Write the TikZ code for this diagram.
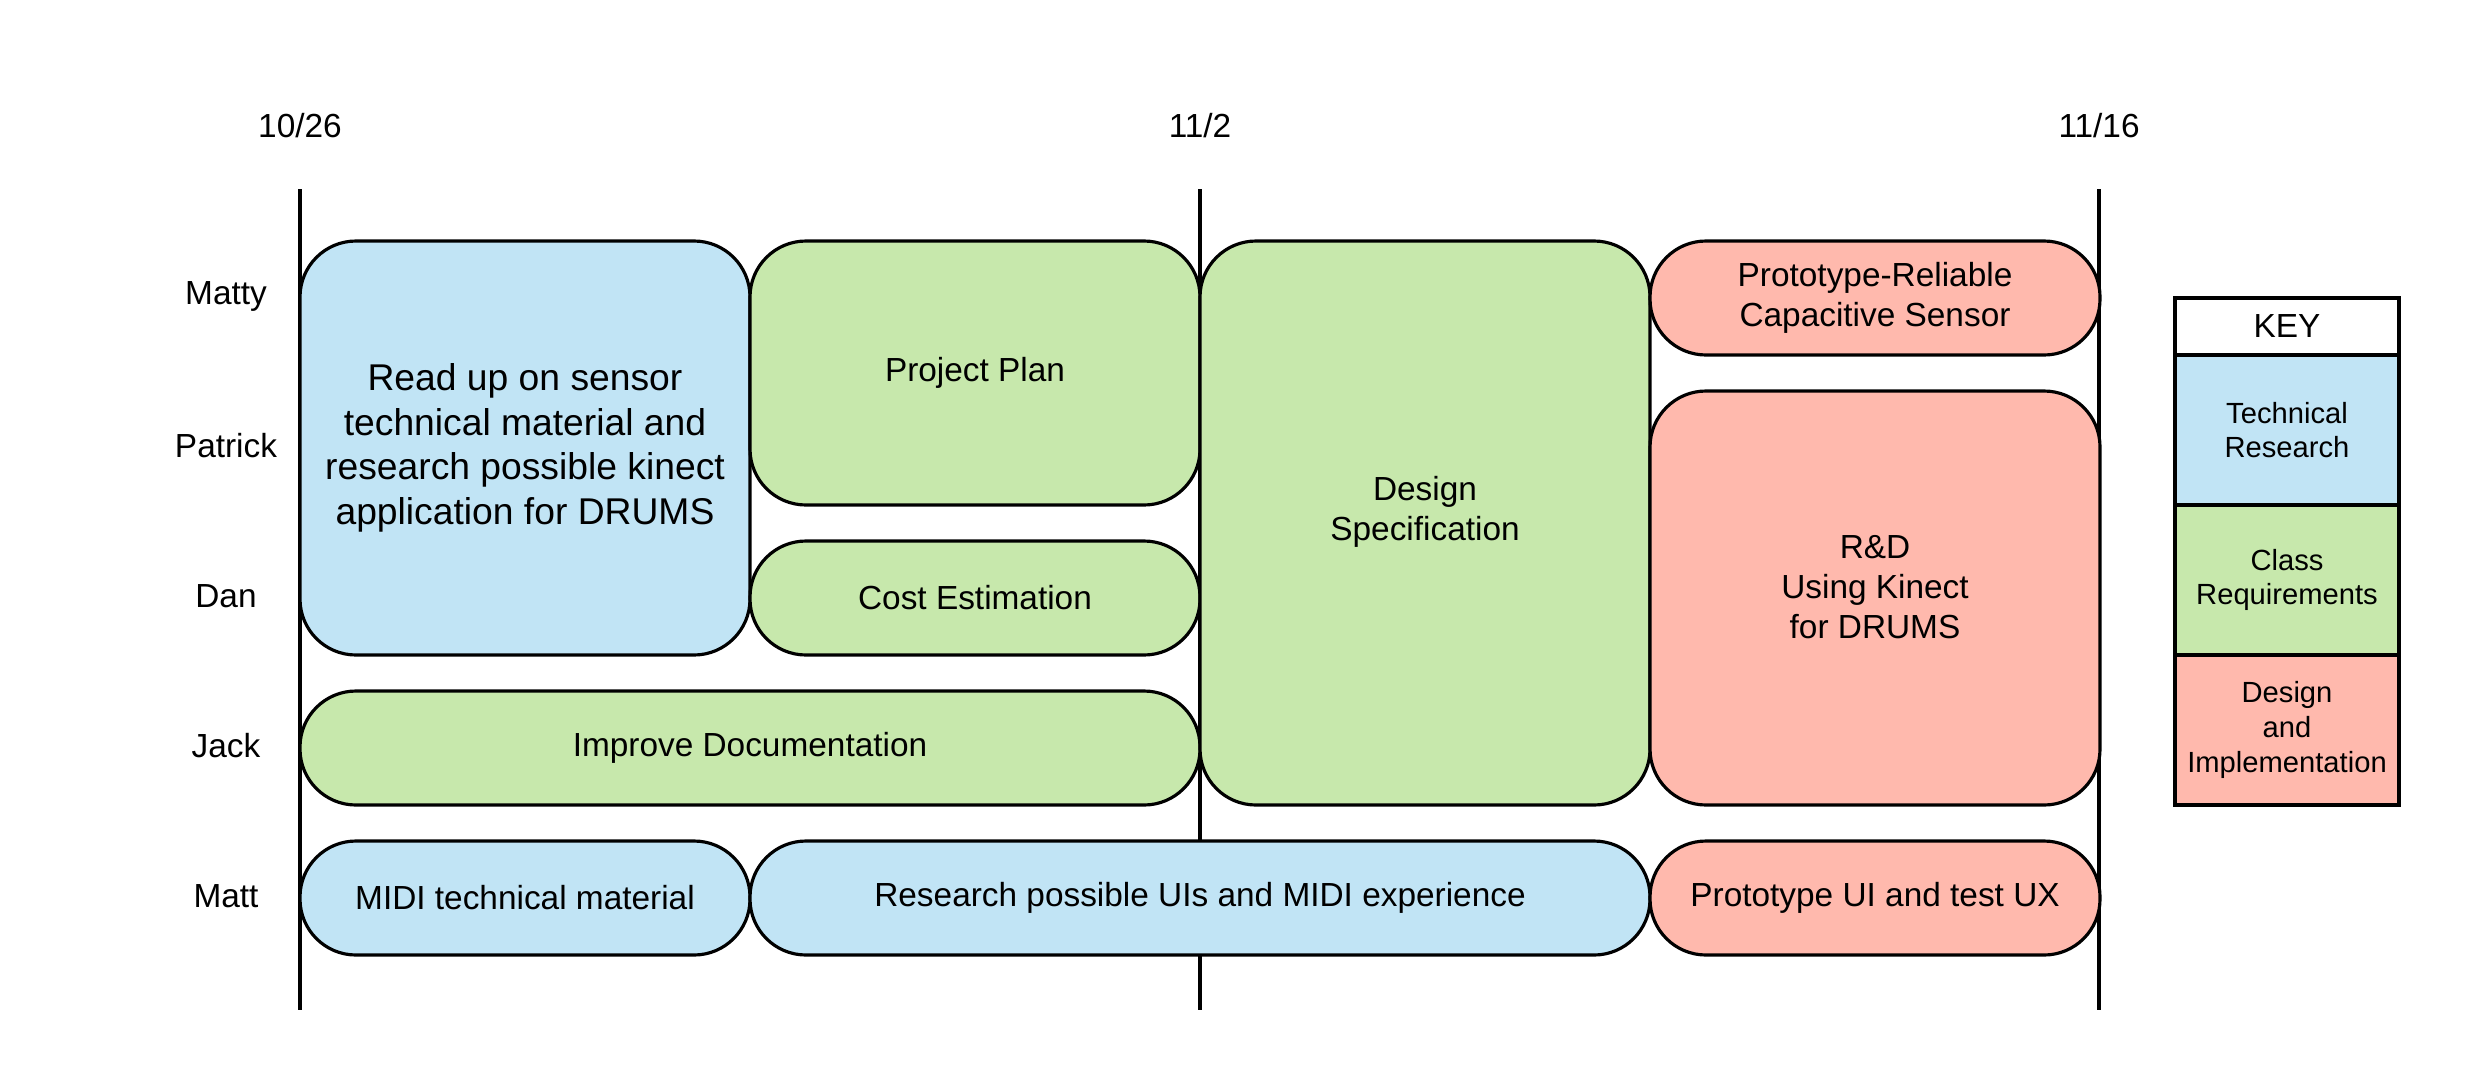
\documentclass[tikz,border=0pt]{standalone}
\usepackage{fontspec}
\setmainfont{Liberation Sans}
\tikzset{>=stealth}
\definecolor{techblue}{HTML}{C1E4F5}
\definecolor{classgreen}{HTML}{C7E8AC}
\definecolor{designred}{HTML}{FFB9AD}
\newcommand{\tasksize}{\fontsize{9.5}{11.4}\selectfont}
\newcommand{\bigtasksize}{\fontsize{10.6}{12.7}\selectfont}
\newcommand{\keysize}{\fontsize{8.3}{9.9}\selectfont}
\tikzset{
  task/.style={draw, line width=0.9pt, rounded corners=0.56cm, align=center,
    inner sep=0pt, minimum width=4.5cm, minimum height=1.14cm, font=\tasksize},
  tech/.style={task, fill=techblue},
  class/.style={task, fill=classgreen},
  design/.style={task, fill=designred},
  keycell/.style={draw, line width=0.9pt, align=center, inner sep=0pt, outer sep=0pt,
    minimum width=2.24cm, minimum height=1.5cm, font=\keysize},
  lbl/.style={font=\tasksize}
}

\begin{document}
\begin{tikzpicture}
    \useasboundingbox (0,0) rectangle (24.75,-10.88);
    % time line
    \node[lbl] (d1) at (3,-1.26) {10/26};
    \node[lbl] (d2) at (12,-1.26) {11/2};
    \node[lbl] (d3) at (20.99,-1.26) {11/16};
    \foreach \n/\x in {1/3, 2/12, 3/20.99} {
        \coordinate (t\n) at (\x,-1.89);
        \coordinate (b\n) at (\x,-10.10);
        \draw[line width=0.9pt] (t\n) -- (b\n);
    }
    % people
    \foreach \who [count=\i from 0] in {Matty, Patrick, Dan, Jack, Matt}
        \node[lbl] (p\i) at (2.26,-2.96-1.5*\i) {\who};
    % tasks
    \node[tech, minimum height=4.14cm, font=\bigtasksize] (read) at (5.25,-4.48)
        {Read up on sensor\\technical material and\\research possible kinect\\application for DRUMS};
    \node[class, minimum height=2.64cm] (plan) at (9.75,-3.73) {Project Plan};
    \node[class] (cost) at (9.75,-5.98) {Cost Estimation};
    \node[class, minimum width=9cm] (doc) at (7.5,-7.48) {Improve Documentation};
    \node[class, minimum height=5.64cm, text depth=0.3cm] (spec) at (14.25,-5.23) {Design\\Specification};
    \node[design] (sensor) at (18.75,-2.98) {Prototype-Reliable\\Capacitive Sensor};
    \node[design, minimum height=4.14cm, text depth=0.22cm] (kinect) at (18.75,-5.98) {R\&D\\Using Kinect\\for DRUMS};
    \node[tech] (midi) at (5.25,-8.98) {MIDI technical material};
    \node[tech, minimum width=9cm] (ui) at (12,-8.98) {Research possible UIs and MIDI experience};
    \node[design] (ux) at (18.75,-8.98) {Prototype UI and test UX};
    % key
    \node[keycell, minimum height=0.57cm, font=\tasksize] (key) at (22.87,-3.265) {KEY};
    \node[keycell, fill=techblue, anchor=north] (ktech) at (key.south) {Technical\\Research};
    \node[keycell, fill=classgreen, anchor=north] (kclass) at (ktech.south) {Class\\Requirements};
    \node[keycell, fill=designred, anchor=north] (kdesign) at (kclass.south) {Design\\and\\Implementation};
\end{tikzpicture}
\end{document}
